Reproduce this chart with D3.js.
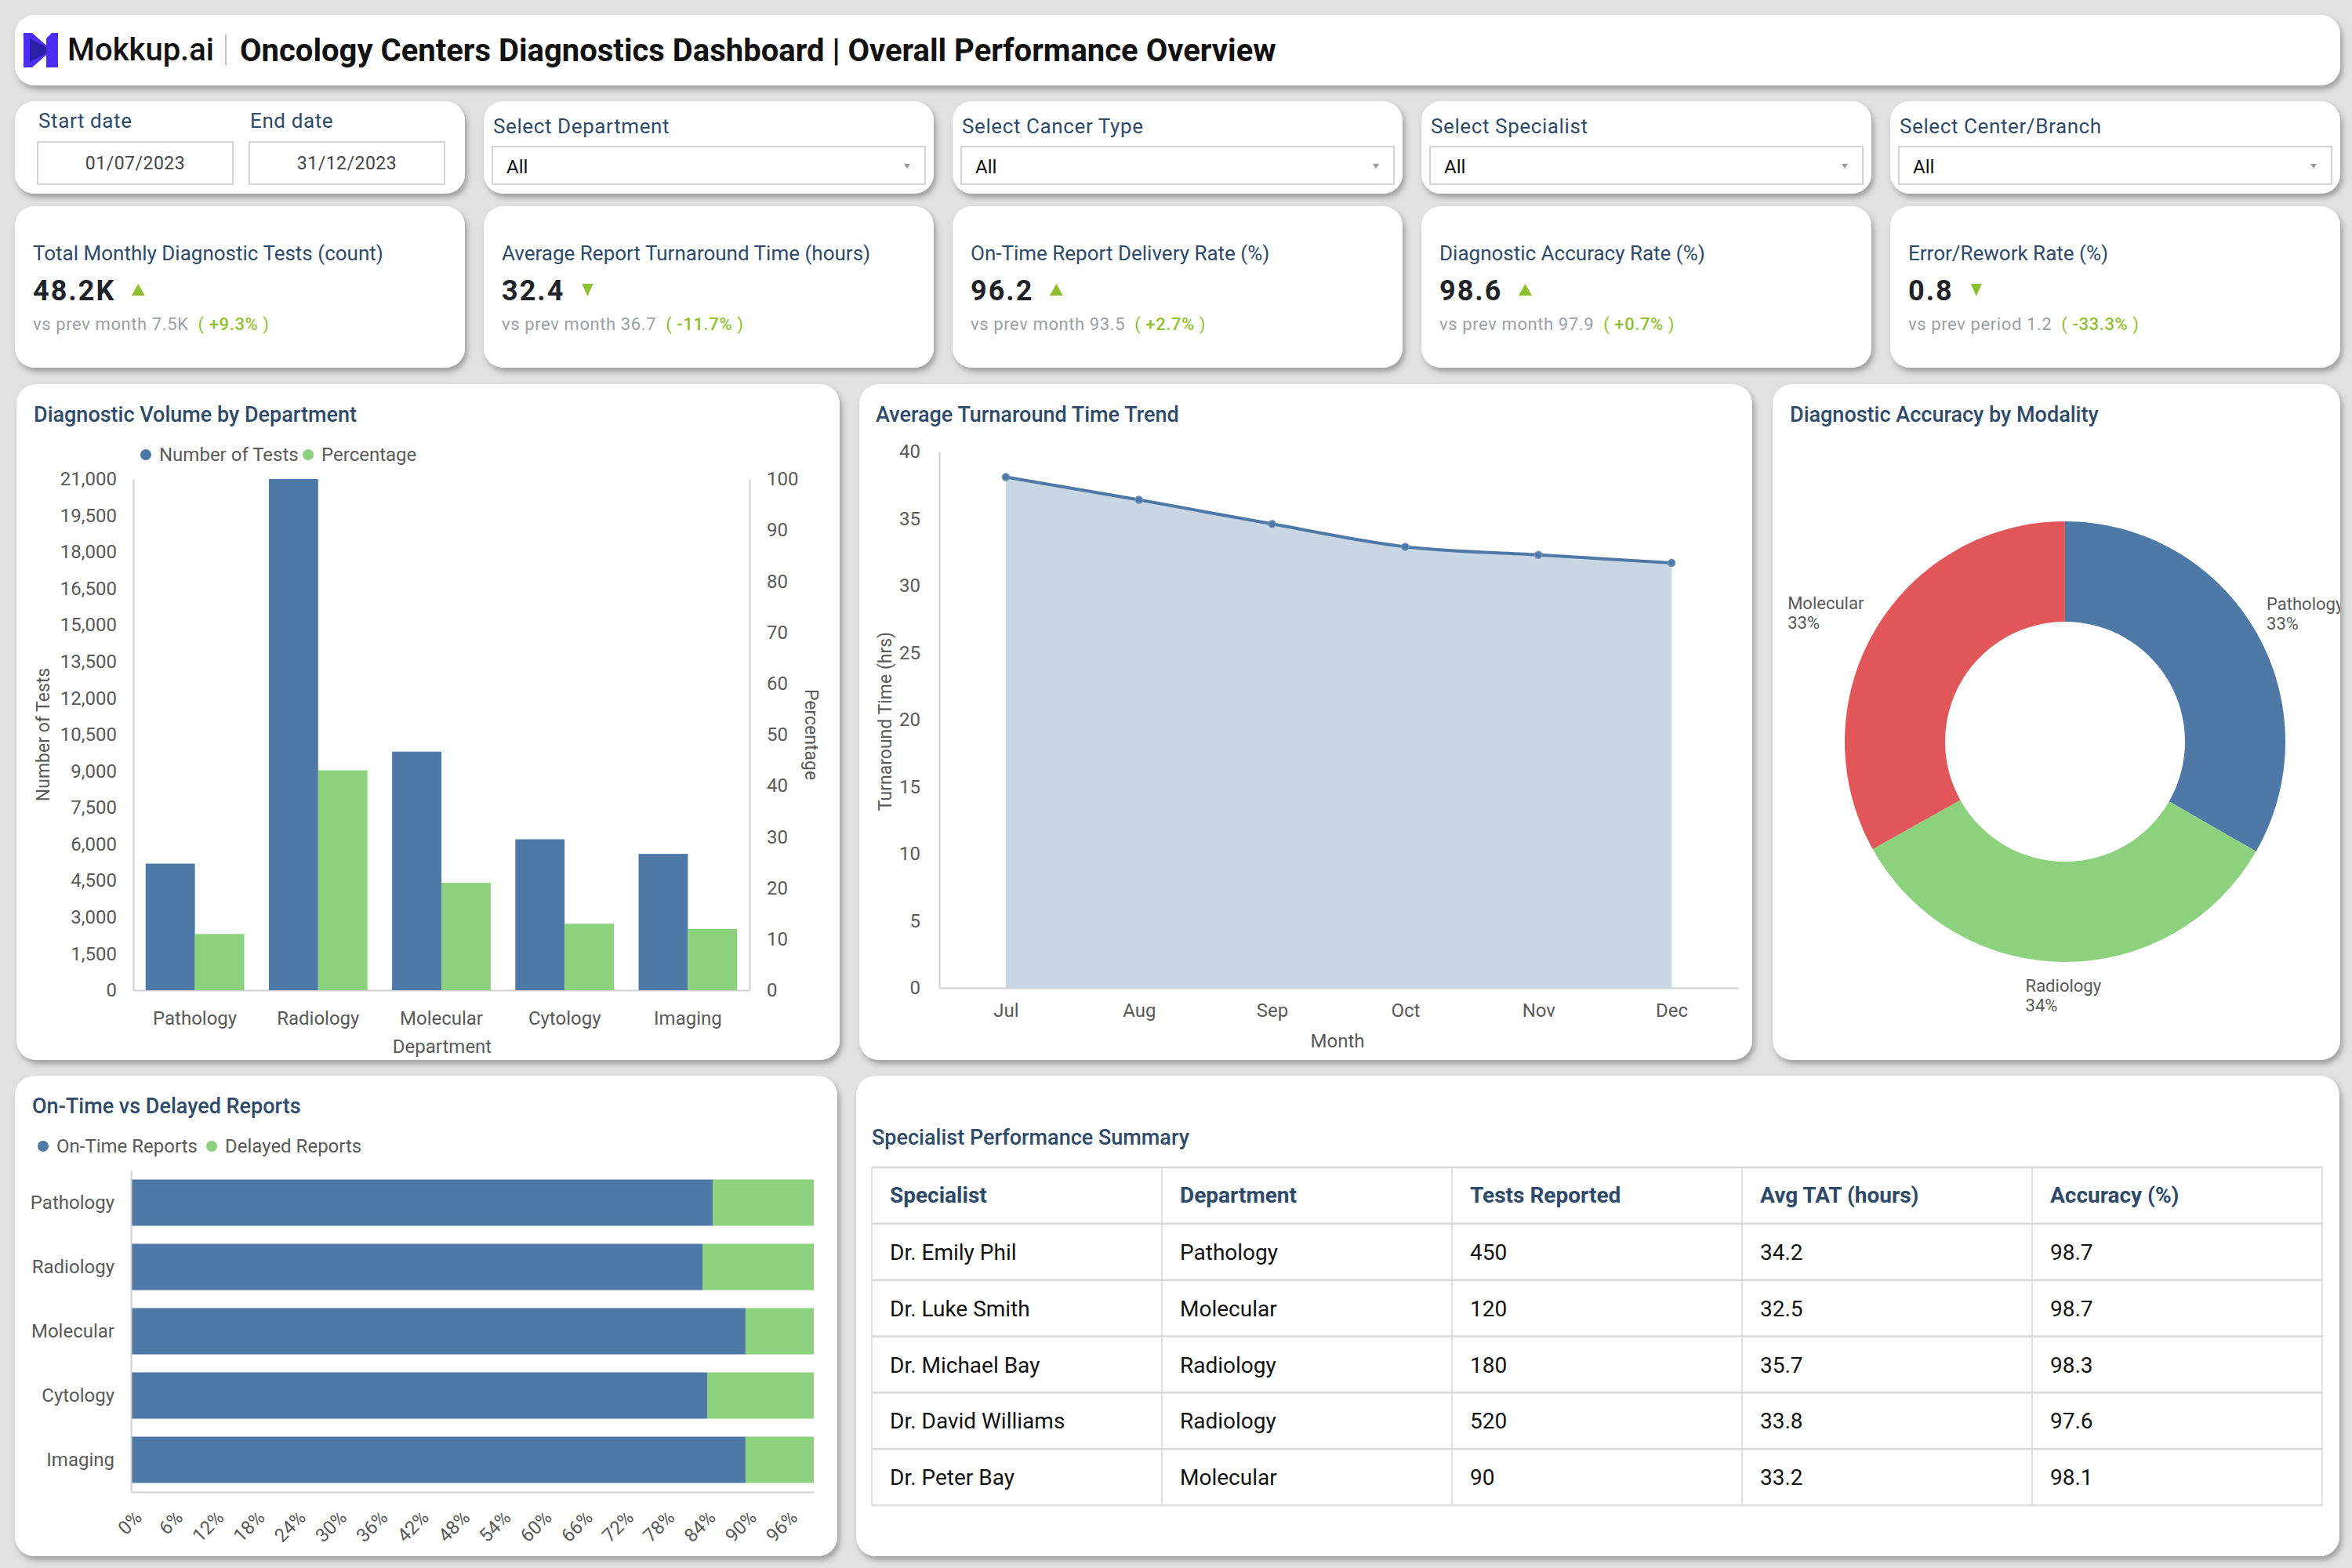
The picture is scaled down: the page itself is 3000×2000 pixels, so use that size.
<!DOCTYPE html>
<html>
<head>
<meta charset="utf-8">
<script src="https://cdn.jsdelivr.net/npm/d3@7"></script>
<style>
  body { margin: 0; background: #e2e2e2; }
  text { font-family: Roboto, sans-serif; }
</style>
</head>
<body>
<div class="vis-holder"></div>
<script>
// ---- data ----
var departments = ['Pathology', 'Radiology', 'Molecular', 'Cytology', 'Imaging'];
var testCounts = [5200, 21000, 9800, 6200, 5600];
var testPercent = [11, 43, 21, 13, 12];
var countTicks = [0, 1500, 3000, 4500, 6000, 7500, 9000, 10500, 12000, 13500, 15000, 16500, 18000, 19500, 21000];
var percentTicks = [0, 10, 20, 30, 40, 50, 60, 70, 80, 90, 100];

var months = ['Jul', 'Aug', 'Sep', 'Oct', 'Nov', 'Dec'];
var turnaroundHours = [38.1, 36.4, 34.6, 32.9, 32.3, 31.7];
var hourTicks = [0, 5, 10, 15, 20, 25, 30, 35, 40];

var modalities = ['Pathology', 'Radiology', 'Molecular'];
var modalityShare = [33.3, 33.6, 33.1];

var onTimeShare = [0.852, 0.837, 0.900, 0.844, 0.900];
var delayedShare = [0.148, 0.163, 0.100, 0.156, 0.100];
var shareTicks = [0, 0.06, 0.12, 0.18, 0.24, 0.30, 0.36, 0.42, 0.48, 0.54, 0.60, 0.66, 0.72, 0.78, 0.84, 0.90, 0.96];

var tableColumns = ['Specialist', 'Department', 'Tests Reported', 'Avg TAT (hours)', 'Accuracy (%)'];
var specialists = ['Dr. Emily Phil', 'Dr. Luke Smith', 'Dr. Michael Bay', 'Dr. David Williams', 'Dr. Peter Bay'];
var specialistDepts = ['Pathology', 'Molecular', 'Radiology', 'Radiology', 'Molecular'];
var testsReported = ['450', '120', '180', '520', '90'];
var avgTat = ['34.2', '32.5', '35.7', '33.8', '33.2'];
var accuracy = ['98.7', '98.7', '98.3', '97.6', '98.1'];

var kpiTitles = ['Total Monthly Diagnostic Tests (count)', 'Average Report Turnaround Time (hours)',
                 'On-Time Report Delivery Rate (%)', 'Diagnostic Accuracy Rate (%)', 'Error/Rework Rate (%)'];
var kpiValues = ['48.2K', '32.4', '96.2', '98.6', '0.8'];
var kpiArrows = ['up', 'down', 'up', 'up', 'down'];
var kpiPrevText = ['vs prev month 7.5K', 'vs prev month 36.7', 'vs prev month 93.5', 'vs prev month 97.9', 'vs prev period 1.2'];
var kpiChange = ['+9.3%', '-11.7%', '+2.7%', '+0.7%', '-33.3%'];

var dateLabels = ['Start date', 'End date'];
var dateValues = ['01/07/2023', '31/12/2023'];
var filterLabels = ['Select Department', 'Select Cancer Type', 'Select Specialist', 'Select Center/Branch'];

var blue = '#4e79a7', green = '#8cd17d', red = '#e15759';
var titleColor = '#2e4a6a', tickColor = '#595959', kpiGreen = '#8dbf2f';

// ---- canvas ----
var svg = d3.select('div.vis-holder')
            .append('svg')
            .attr('width', 3000)
            .attr('height', 2000)
            .style('display', 'block')
            .style('background', '#e1e1e1');

var defs = svg.append('defs');
var shadow = defs.append('filter').attr('id', 'shadow')
                 .attr('x', '-5%').attr('y', '-5%').attr('width', '112%').attr('height', '120%');
shadow.append('feDropShadow').attr('dx', 3).attr('dy', 5).attr('stdDeviation', 3.5)
      .attr('flood-color', '#000').attr('flood-opacity', 0.3);

function card(x, y, w, h) {
  svg.append('rect')
     .attr('x', x).attr('y', y).attr('width', w).attr('height', h)
     .attr('rx', 25).attr('fill', '#fff')
     .attr('filter', 'url(#shadow)');
}

function chartTitle(x, y, label, size) {
  svg.append('text')
     .attr('x', x).attr('y', y)
     .attr('fill', titleColor)
     .attr('font-size', size || 27)
     .attr('font-weight', 500)
     .text(label);
}

// ---- header ----
card(19, 19, 2966, 90);
svg.append('path').attr('d', 'M30,42 L41,42 L66,64 L41,86 L30,86 Z').attr('fill', '#4c2cf6');
svg.append('path').attr('d', 'M38,49 L66,64 L38,79 Z').attr('fill', '#2b1fa5');
svg.append('path').attr('d', 'M59,49 L66,42 L74,42 L74,86 L59,86 Z').attr('fill', '#4c2cf6');
svg.append('text').attr('x', 86).attr('y', 77)
   .attr('font-size', 40).attr('font-weight', 500).attr('fill', '#111')
   .text('Mokkup.ai');
svg.append('line').attr('x1', 288).attr('x2', 288).attr('y1', 44).attr('y2', 83)
   .attr('stroke', '#bfa6b3').attr('stroke-width', 1.5);
svg.append('text').attr('x', 306).attr('y', 78)
   .attr('font-size', 40).attr('font-weight', 700).attr('fill', '#111')
   .text('Oncology Centers Diagnostics Dashboard | Overall Performance Overview');

// ---- filter row ----
var colLeft = [19, 617, 1215, 1813, 2411];
var colWidth = 574;

card(colLeft[0], 129, colWidth, 118);
dateLabels.forEach(function(lbl, i) {
  var bx = [48, 318][i];
  svg.append('text').attr('x', bx + 1).attr('y', 163)
     .attr('font-size', 26).attr('letter-spacing', 0.6).attr('fill', titleColor).text(lbl);
  svg.append('rect').attr('x', bx).attr('y', 181).attr('width', 249).attr('height', 54)
     .attr('fill', '#fff').attr('stroke', '#d4d4d4').attr('stroke-width', 2);
  svg.append('text').attr('x', bx + 124.5).attr('y', 216)
     .attr('text-anchor', 'middle').attr('font-size', 23).attr('letter-spacing', 0.5)
     .attr('fill', '#444').text(dateValues[i]);
});

filterLabels.forEach(function(lbl, i) {
  var cx = colLeft[i + 1];
  card(cx, 129, colWidth, 118);
  svg.append('text').attr('x', cx + 12).attr('y', 170)
     .attr('font-size', 26).attr('letter-spacing', 0.6).attr('fill', titleColor).text(lbl);
  svg.append('rect').attr('x', cx + 11).attr('y', 187).attr('width', 552).attr('height', 48)
     .attr('fill', '#fff').attr('stroke', '#d4d4d4').attr('stroke-width', 2);
  svg.append('text').attr('x', cx + 29).attr('y', 221)
     .attr('font-size', 24).attr('fill', '#111').text('All');
  var ax = cx + 540;
  svg.append('path').attr('d', 'M' + (ax - 4) + ',209 L' + (ax + 4) + ',209 L' + ax + ',215 Z')
     .attr('fill', '#9a9a9a');
});

// ---- KPI row ----
kpiTitles.forEach(function(t, i) {
  var cx = colLeft[i];
  card(cx, 263, colWidth, 206);
  svg.append('text').attr('x', cx + 23).attr('y', 332)
     .attr('font-size', 26).attr('fill', titleColor).text(t);
  var val = svg.append('text').attr('x', cx + 23).attr('y', 383)
     .attr('font-size', 36).attr('font-weight', 700).attr('letter-spacing', 2)
     .attr('fill', '#1f2329').text(kpiValues[i]);
  var vw = val.node().getComputedTextLength();
  var tx = cx + 23 + vw + 29;
  var tri = kpiArrows[i] === 'up'
    ? 'M' + (tx - 8.5) + ',377 L' + (tx + 8.5) + ',377 L' + tx + ',362 Z'
    : 'M' + (tx - 7) + ',362 L' + (tx + 7) + ',362 L' + tx + ',378 Z';
  svg.append('path').attr('d', tri).attr('fill', kpiGreen);
  var sub = svg.append('text').attr('x', cx + 23).attr('y', 421)
     .attr('font-size', 22).attr('letter-spacing', 0.6);
  sub.append('tspan').attr('fill', '#9aa0a6').text(kpiPrevText[i]);
  sub.append('tspan').attr('fill', kpiGreen).attr('dx', 12).text('(');
  sub.append('tspan').attr('fill', kpiGreen).attr('font-weight', 500).attr('dx', 6).text(kpiChange[i]);
  sub.append('tspan').attr('fill', kpiGreen).attr('dx', 6).text(')');
});

// ---- Diagnostic Volume by Department ----
card(21, 490, 1050, 862);
chartTitle(43, 538, 'Diagnostic Volume by Department');

var xBand = d3.scaleBand().domain(departments).range([170, 956]).paddingInner(0.2).paddingOuter(0.1);
var xSub = d3.scaleBand().domain(['count', 'pct']).range([0, xBand.bandwidth()]);
var yCount = d3.scaleLinear().domain([0, 21000]).range([1263, 611]);
var yPct = d3.scaleLinear().domain([0, 100]).range([1263, 611]);

function styleAxis(g, size) {
  g.select('.domain').attr('stroke', '#d0d0d0').attr('stroke-width', 2);
  g.selectAll('text').attr('font-size', size || 24).attr('fill', tickColor)
   .attr('font-family', 'Roboto, sans-serif');
}

svg.append('g').attr('transform', 'translate(170,0)')
   .call(d3.axisLeft(yCount).tickValues(countTicks).tickSize(0).tickPadding(21)
           .tickFormat(d3.format(',')))
   .call(styleAxis);
svg.append('g').attr('transform', 'translate(956,0)')
   .call(d3.axisRight(yPct).tickValues(percentTicks).tickSize(0).tickPadding(22))
   .call(styleAxis);
svg.append('g').attr('transform', 'translate(0,1263)')
   .call(d3.axisBottom(xBand).tickSize(0).tickPadding(27))
   .call(styleAxis);

var groups = svg.append('g').selectAll('g').data(departments).enter().append('g')
   .attr('transform', function(d) { return 'translate(' + xBand(d) + ',0)'; });
groups.append('rect')
   .attr('x', xSub('count'))
   .attr('y', function(d, i) { return yCount(testCounts[i]); })
   .attr('width', xSub.bandwidth())
   .attr('height', function(d, i) { return 1263 - yCount(testCounts[i]); })
   .attr('fill', blue);
groups.append('rect')
   .attr('x', xSub('pct'))
   .attr('y', function(d, i) { return yPct(testPercent[i]); })
   .attr('width', xSub.bandwidth())
   .attr('height', function(d, i) { return 1263 - yPct(testPercent[i]); })
   .attr('fill', green);

svg.append('circle').attr('cx', 186).attr('cy', 580).attr('r', 7).attr('fill', blue);
svg.append('text').attr('x', 203).attr('y', 588).attr('font-size', 24).attr('fill', tickColor).text('Number of Tests');
svg.append('circle').attr('cx', 393).attr('cy', 580).attr('r', 7).attr('fill', green);
svg.append('text').attr('x', 410).attr('y', 588).attr('font-size', 24).attr('fill', tickColor).text('Percentage');

svg.append('text').attr('text-anchor', 'middle')
   .attr('transform', 'translate(63,937) rotate(-90)')
   .attr('font-family', 'Liberation Sans, Arial, sans-serif')
   .attr('font-size', 23).attr('fill', tickColor).text('Number of Tests');
svg.append('text').attr('text-anchor', 'middle')
   .attr('transform', 'translate(1027,937) rotate(90)')
   .attr('font-family', 'Liberation Sans, Arial, sans-serif')
   .attr('font-size', 23).attr('fill', tickColor).text('Percentage');
svg.append('text').attr('text-anchor', 'middle').attr('x', 564).attr('y', 1343)
   .attr('font-size', 24).attr('fill', tickColor).text('Department');

// ---- Average Turnaround Time Trend ----
card(1096, 490, 1139, 862);
chartTitle(1117, 538, 'Average Turnaround Time Trend');

var xMonth = d3.scalePoint().domain(months).range([1198, 2217]).padding(0.5);
var yHours = d3.scaleLinear().domain([0, 40]).range([1260, 576]);

svg.append('g').attr('transform', 'translate(1198,0)')
   .call(d3.axisLeft(yHours).tickValues(hourTicks).tickSize(0).tickPadding(24))
   .call(styleAxis);
svg.append('g').attr('transform', 'translate(0,1260)')
   .call(d3.axisBottom(xMonth).tickSize(0).tickPadding(20))
   .call(styleAxis);

var trend = months.map(function(m, i) { return { m: m, v: turnaroundHours[i] }; });
svg.append('path').datum(trend)
   .attr('fill', '#c9d7e4')
   .attr('d', d3.area().curve(d3.curveMonotoneX)
                 .x(function(d) { return xMonth(d.m); })
                 .y0(yHours(0))
                 .y1(function(d) { return yHours(d.v); }));
svg.append('path').datum(trend)
   .attr('fill', 'none').attr('stroke', blue).attr('stroke-width', 4)
   .attr('d', d3.line().curve(d3.curveMonotoneX)
                 .x(function(d) { return xMonth(d.m); })
                 .y(function(d) { return yHours(d.v); }));
svg.append('g').selectAll('circle').data(trend).enter().append('circle')
   .attr('cx', function(d) { return xMonth(d.m); })
   .attr('cy', function(d) { return yHours(d.v); })
   .attr('r', 4.5).attr('fill', blue).attr('stroke', '#6d92bb').attr('stroke-width', 1.5);

svg.append('text').attr('text-anchor', 'middle')
   .attr('transform', 'translate(1137,920) rotate(-90)')
   .attr('font-family', 'Liberation Sans, Arial, sans-serif')
   .attr('font-size', 23).attr('fill', tickColor).text('Turnaround Time (hrs)');
svg.append('text').attr('text-anchor', 'middle').attr('x', 1706).attr('y', 1336)
   .attr('font-size', 24).attr('fill', tickColor).text('Month');

// ---- Diagnostic Accuracy by Modality ----
card(2261, 490, 724, 862);
chartTitle(2283, 538, 'Diagnostic Accuracy by Modality');

defs.append('clipPath').attr('id', 'donutClip')
    .append('rect').attr('x', 2261).attr('y', 490).attr('width', 724).attr('height', 862).attr('rx', 25);

var donutColor = d3.scaleOrdinal().domain(modalities).range([blue, green, red]);
var pie = d3.pie().sort(null).value(function(d) { return d.v; });
var slices = pie(modalities.map(function(m, i) { return { m: m, v: modalityShare[i] }; }));
var arc = d3.arc().innerRadius(153).outerRadius(281);
var labelArc = d3.arc().innerRadius(297).outerRadius(297);
var total = d3.sum(modalityShare);

var donut = svg.append('g').attr('clip-path', 'url(#donutClip)');
var dg = donut.append('g').attr('transform', 'translate(2634,946)');
dg.selectAll('path').data(slices).enter().append('path')
  .attr('d', arc)
  .attr('fill', function(d) { return donutColor(d.data.m); });

slices.forEach(function(d) {
  var c = labelArc.centroid(d);
  var lbl = dg.append('text')
     .attr('font-family', 'Liberation Sans, Arial, sans-serif')
     .attr('font-size', 22).attr('fill', tickColor);
  var base = c[1] < 0 ? c[1] - 19 : c[1] + 22;
  lbl.append('tspan').attr('x', 0).attr('y', base).text(d.data.m);
  lbl.append('tspan').attr('x', 0).attr('y', base + 25)
     .text(Math.round(d.data.v / total * 100) + '%');
  var w = lbl.node().getBBox().width;
  var shift = c[0] > 20 ? 0 : (c[0] < -20 ? -w : -w / 2);
  lbl.attr('transform', 'translate(' + (c[0] + shift) + ',0)');
});

// ---- On-Time vs Delayed Reports ----
card(19, 1372, 1049, 613);
chartTitle(41, 1420, 'On-Time vs Delayed Reports');

var yDept = d3.scaleBand().domain(departments).range([1493, 1903]).paddingInner(0.28).paddingOuter(0.14);
var xShare = d3.scaleLinear().domain([0, 1]).range([167, 1038]);

var rows = svg.append('g').selectAll('g').data(departments).enter().append('g');
rows.append('rect')
    .attr('x', xShare(0))
    .attr('y', function(d) { return yDept(d); })
    .attr('width', function(d, i) { return xShare(onTimeShare[i]) - xShare(0); })
    .attr('height', yDept.bandwidth())
    .attr('fill', blue);
rows.append('rect')
    .attr('x', function(d, i) { return xShare(onTimeShare[i]); })
    .attr('y', function(d) { return yDept(d); })
    .attr('width', function(d, i) { return xShare(onTimeShare[i] + delayedShare[i]) - xShare(onTimeShare[i]); })
    .attr('height', yDept.bandwidth())
    .attr('fill', green);

svg.append('g').attr('transform', 'translate(167,0)')
   .call(d3.axisLeft(yDept).tickSize(0).tickPadding(21).tickSizeOuter(0))
   .call(styleAxis);
var xAxisShare = svg.append('g').attr('transform', 'translate(0,1903)')
   .call(d3.axisBottom(xShare).tickValues(shareTicks).tickSize(0).tickSizeOuter(0)
           .tickFormat(d3.format('.0%')))
   .call(function(g) { styleAxis(g, 24); });
xAxisShare.selectAll('text')
   .attr('y', null).attr('dy', null)
   .attr('text-anchor', 'end')
   .attr('transform', 'translate(15,34) rotate(-45)');

svg.append('circle').attr('cx', 55).attr('cy', 1462).attr('r', 7).attr('fill', blue);
svg.append('text').attr('x', 72).attr('y', 1470).attr('font-size', 24).attr('fill', tickColor).text('On-Time Reports');
svg.append('circle').attr('cx', 270).attr('cy', 1462).attr('r', 7).attr('fill', green);
svg.append('text').attr('x', 287).attr('y', 1470).attr('font-size', 24).attr('fill', tickColor).text('Delayed Reports');

// ---- Specialist Performance Summary ----
card(1092, 1372, 1892, 613);
chartTitle(1112, 1460, 'Specialist Performance Summary', 27);

var tableRows = specialists.map(function(s, i) {
  return [s, specialistDepts[i], testsReported[i], avgTat[i], accuracy[i]];
});
var colScale = d3.scaleBand().domain(d3.range(tableColumns.length)).range([1112, 2962]);
var rowScale = d3.scaleBand().domain(d3.range(tableRows.length + 1)).range([1489, 1920]);
var table = svg.append('g');

table.selectAll('text.head').data(tableColumns).enter().append('text')
     .attr('class', 'head')
     .attr('x', function(d, j) { return colScale(j) + 23; })
     .attr('y', rowScale(0) + 45)
     .attr('font-size', 28).attr('font-weight', 700).attr('fill', titleColor)
     .text(function(d) { return d; });

tableRows.forEach(function(r, i) {
  table.selectAll('text.r' + i).data(r).enter().append('text')
       .attr('class', 'r' + i)
       .attr('x', function(d, j) { return colScale(j) + 23; })
       .attr('y', rowScale(i + 1) + 46)
       .attr('font-size', 28).attr('fill', '#111')
       .text(function(d) { return d; });
});

table.selectAll('line.h').data(d3.range(tableRows.length + 2)).enter().append('line')
     .attr('class', 'h')
     .attr('x1', 1112).attr('x2', 2962)
     .attr('y1', function(d) { return 1489 + d * rowScale.step(); })
     .attr('y2', function(d) { return 1489 + d * rowScale.step(); })
     .attr('stroke', '#d9d9d9').attr('stroke-width', 2.5);
table.selectAll('line.v').data(d3.range(tableColumns.length + 1)).enter().append('line')
     .attr('class', 'v')
     .attr('x1', function(d) { return 1112 + d * colScale.step(); })
     .attr('x2', function(d) { return 1112 + d * colScale.step(); })
     .attr('y1', 1489).attr('y2', 1920)
     .attr('stroke', '#d9d9d9').attr('stroke-width', 1.5);
</script>
</body>
</html>
